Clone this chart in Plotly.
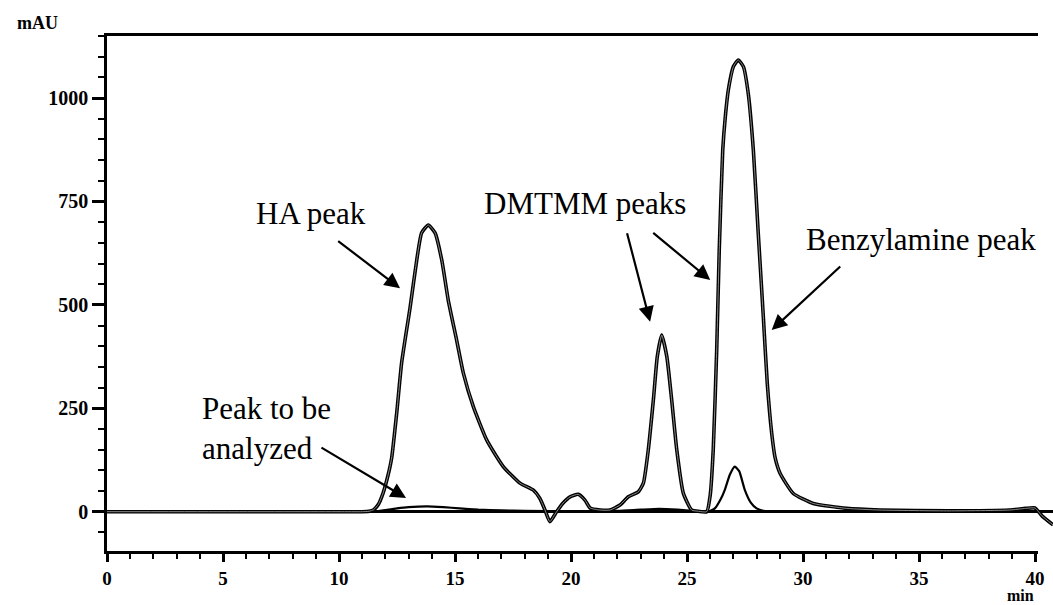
import plotly.graph_objects as go

# Main chromatogram (time in min, absorbance in mAU)
main_t = [0, 5, 10, 11.0, 11.3, 11.5, 11.7, 11.9, 12.1, 12.27, 12.49, 12.70, 13.06, 13.35, 13.56,
          13.85, 14.14, 14.43, 14.71, 15.07, 15.36, 15.79, 16.37, 17.08, 17.80, 18.38, 18.66,
          18.88, 19.09, 19.38, 19.66, 19.96, 20.31, 20.6, 20.82, 21.25, 21.68, 22.11, 22.47,
          22.9, 23.12, 23.33, 23.55, 23.72, 23.91, 24.13, 24.34, 24.56, 24.84, 25.2, 25.5,
          25.85, 26.0, 26.13, 26.28, 26.39, 26.54, 26.66, 26.78, 27.0, 27.21, 27.43, 27.64,
          27.86, 28.07, 28.29, 28.46, 28.65, 28.8, 29.01, 29.58, 30.44, 31.88, 33.32, 36.3,
          38.9, 39.6, 40.0, 40.3, 40.78]
main_mau = [0, 0, 0, 0, 1, 5, 18, 45, 85, 130, 240, 360, 492, 608, 674,
            693, 674, 608, 511, 415, 335, 254, 173, 109, 69, 52, 32,
            4, -24, 0, 21, 36, 42, 28, 9, 4, 4, 16, 36,
            48, 69, 149, 270, 375, 427, 375, 270, 149, 45, 4, 1,
            0, 40, 149, 391, 633, 874, 960, 1019, 1076, 1092, 1076, 1011,
            874, 674, 471, 310, 190, 130, 93, 44, 20, 8, 4, 2,
            4, 8, 9, -10, -32]

# Trace of the peak to be analyzed
small_t = [0, 5, 10, 11.5, 12.0, 12.5, 13.0, 13.8, 14.5, 15.2, 16.0, 17.0, 18.0, 20.0, 22.0,
           23.0, 23.8, 24.6, 25.3, 25.9, 26.2, 26.45, 26.63, 26.85, 27.06, 27.25, 27.49,
           27.75, 28.0, 28.3, 29.0, 35.0, 39.0, 39.6, 40.0]
small_mau = [0, 0, 0, 0, 4, 8, 11, 13, 11, 8, 5, 3, 2, 1, 2,
             5, 7, 5, 2, 0, 8, 30, 53, 90, 109, 98, 53,
             22, 8, 2, 0, 0, 2, 8, 9]

x_ticks = [0, 5, 10, 15, 20, 25, 30, 35, 40]
y_ticks = [0, 250, 500, 750, 1000]

W, H = 1053, 605
L, R, T, B = 107, 0, 36, 54
X_MAX = 40
PX_PER_MIN = 23.2
plot_w = W - L - R
x_domain_end = (X_MAX * PX_PER_MIN) / plot_w
x2_max = plot_w / PX_PER_MIN

fig = go.Figure()

for t, v, w in [(main_t, main_mau, 3.6), (small_t, small_mau, 2.2)]:
    fig.add_trace(go.Scatter(x=t, y=v, xaxis="x2", yaxis="y", mode="lines",
                             line=dict(color="black", width=w, shape="spline", smoothing=0.5),
                             hoverinfo="skip", showlegend=False))
fig.add_trace(go.Scatter(x=main_t, y=main_mau, xaxis="x2", yaxis="y", mode="lines",
                         line=dict(color="#8a8a8a", width=1.0, shape="spline", smoothing=0.5),
                         hoverinfo="skip", showlegend=False))

ytickfont = dict(family="Liberation Serif", size=20, color="black", weight="bold")
xtickfont = dict(family="Liberation Serif", size=19, color="black", weight="bold")
fig.update_layout(
    width=W, height=H,
    margin=dict(l=L, r=R, t=T, b=B, autoexpand=False),
    paper_bgcolor="white", plot_bgcolor="white",
    xaxis=dict(domain=[0, x_domain_end], range=[0, X_MAX], tickvals=x_ticks,
               ticks="outside", ticklen=8, tickwidth=2.5, tickcolor="black",
               showline=True, linewidth=2.5, linecolor="black", mirror=True,
               showgrid=False, zeroline=False, tickfont=xtickfont, automargin=False,
               minor=dict(dtick=1, ticks="outside", ticklen=5, tickwidth=2, tickcolor="black")),
    xaxis2=dict(domain=[0, 1], range=[0, x2_max], anchor="y", visible=False),
    yaxis=dict(range=[-95, 1150], tickvals=y_ticks,
               ticks="outside", ticklen=12, tickwidth=2.5, tickcolor="black",
               showline=True, linewidth=2.5, linecolor="black", mirror=True,
               showgrid=False, zeroline=True, zerolinewidth=3, zerolinecolor="black",
               tickfont=ytickfont, automargin=False,
               minor=dict(tick0=0, dtick=50, ticks="outside", ticklen=6, tickwidth=2, tickcolor="black")),
)

label_font = dict(family="Liberation Serif", size=31, color="black")
texts = [
    ("HA peak", 8.79, 720, "center", "center"),
    ("DMTMM peaks", 20.6, 746, "center", "center"),
    ("Benzylamine peak", 35.1, 657, "center", "center"),
    ("Peak to be<br>analyzed", 4.01, 202, "left", "left"),
]
for txt, x, y, xa, al in texts:
    fig.add_annotation(x=x, y=y, xref="x", yref="y", text=txt, showarrow=False,
                       xanchor=xa, yanchor="middle", align=al, font=label_font)

arrows = [
    ((9.90, 657), (12.63, 540)),
    ((9.18, 157), (12.89, 33)),
    ((22.40, 677), (23.41, 459)),
    ((23.48, 677), (26.0, 560)),
    ((31.67, 596), (28.65, 439)),
]
for (tx, ty), (hx, hy) in arrows:
    fig.add_annotation(x=hx, y=hy, ax=tx, ay=ty, xref="x", yref="y", axref="x", ayref="y",
                       text="", showarrow=True, arrowhead=2, arrowsize=1.4, arrowwidth=2.2,
                       arrowcolor="black", standoff=0, startstandoff=0)

fig.add_annotation(x=(37 - L) / plot_w, y=(H - B - 23) / (H - T - B), xref="paper", yref="paper",
                   text="mAU", showarrow=False, xanchor="center", yanchor="middle",
                   font=dict(family="Liberation Serif", size=18, color="black", weight="bold"))
fig.add_annotation(x=(1020 - L) / plot_w, y=(H - B - 605) / (H - T - B), xref="paper", yref="paper",
                   text="min", showarrow=False, xanchor="center", yanchor="bottom", borderpad=0,
                   font=dict(family="Liberation Serif", size=16, color="black", weight="bold"))

fig.write_html("out.html")
